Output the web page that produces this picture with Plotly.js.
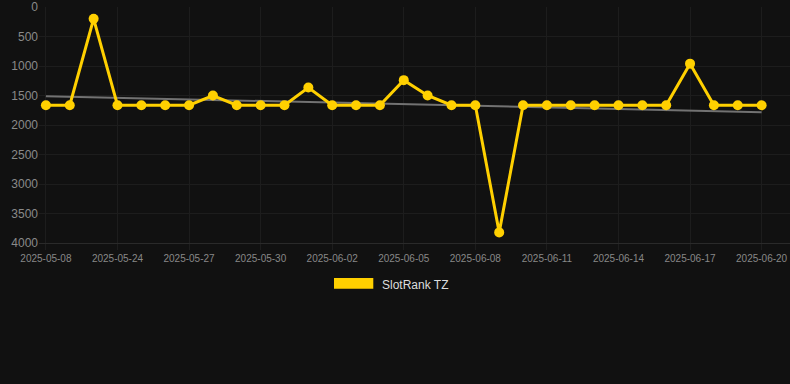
<!DOCTYPE html>
<html>
<head>
<meta charset="utf-8">
<script src="https://cdn.plot.ly/plotly-3.0.1.min.js"></script>
<style>
html,body{margin:0;padding:0;background:#111111;}
#chart{width:790px;height:384px;}
</style>
</head>
<body>
<div id="chart"></div>
<script>
var dates = ["2025-05-08","2025-05-22","2025-05-23","2025-05-24","2025-05-25","2025-05-26","2025-05-27","2025-05-28","2025-05-29","2025-05-30","2025-05-31","2025-06-01","2025-06-02","2025-06-03","2025-06-04","2025-06-05","2025-06-06","2025-06-07","2025-06-08","2025-06-09","2025-06-10","2025-06-11","2025-06-12","2025-06-13","2025-06-14","2025-06-15","2025-06-16","2025-06-17","2025-06-18","2025-06-19","2025-06-20"];
var ranks = [1665,1665,200,1665,1665,1665,1665,1500,1665,1665,1665,1365,1665,1665,1665,1240,1500,1665,1665,3820,1665,1665,1665,1665,1665,1665,1665,960,1665,1665,1665];
var trendDates = ["2025-05-08","2025-06-20"];
var trendValues = [1512,1782];
var tickDates = ["2025-05-08","2025-05-24","2025-05-27","2025-05-30","2025-06-02","2025-06-05","2025-06-08","2025-06-11","2025-06-14","2025-06-17","2025-06-20"];
var yTicks = [0,500,1000,1500,2000,2500,3000,3500,4000];
var seriesName = "SlotRank TZ";

var L = 39, R = 0, T = 6.5, B = 140.7;
var W = 790 - L - R, H = 384 - T - B;
function px(x){return (x - L)/W;}
function py(y){return (384 - B - y)/H;}

var traces = [
  {x: trendDates, y: trendValues, type:'scatter', mode:'lines',
   line:{color:'#727272', width:2}, hoverinfo:'skip', showlegend:false},
  {x: dates, y: ranks, type:'scatter', mode:'lines+markers', name: seriesName,
   line:{color:'#FFD000', width:3}, marker:{color:'#FFD000', size:10}, showlegend:false}
];

var layout = {
  width:790, height:384,
  paper_bgcolor:'#111111', plot_bgcolor:'#111111',
  margin:{l:L, r:R, t:T, b:B, pad:0},
  showlegend:false,
  font:{family:'Arial, "Liberation Sans", sans-serif', color:'#888888'},
  xaxis:{type:'category', categoryorder:'array', categoryarray:dates,
    range:[-0.29, 31.19], tickmode:'array', tickvals:tickDates, ticktext:tickDates,
    showgrid:true, gridcolor:'#1d1d1d', gridwidth:1, zeroline:false,
    showline:true, linecolor:'#2a2a2a', linewidth:1,
    ticks:'outside', ticklen:6, tickcolor:'#1d1d1d',
    tickfont:{size:10, color:'#888888'}, fixedrange:true},
  yaxis:{range:[4000,0], tickmode:'array', tickvals:yTicks,
    showgrid:true, gridcolor:'#1d1d1d', gridwidth:1, zeroline:false, showline:false,
    ticks:'', tickfont:{size:12, color:'#8a8a8a'}, fixedrange:true},
  shapes:[{type:'rect', xref:'paper', yref:'paper', x0:px(334), x1:px(373.3), y0:py(289.3), y1:py(278.3),
    fillcolor:'#FFD000', line:{width:0}}],
  annotations:[{xref:'paper', yref:'paper', x:px(380), y:py(285), xanchor:'left', yanchor:'middle',
    text:seriesName, showarrow:false, font:{size:12, color:'#dddddd'}}]
};

Plotly.newPlot('chart', traces, layout, {displayModeBar:false, staticPlot:true});
</script>
</body>
</html>
